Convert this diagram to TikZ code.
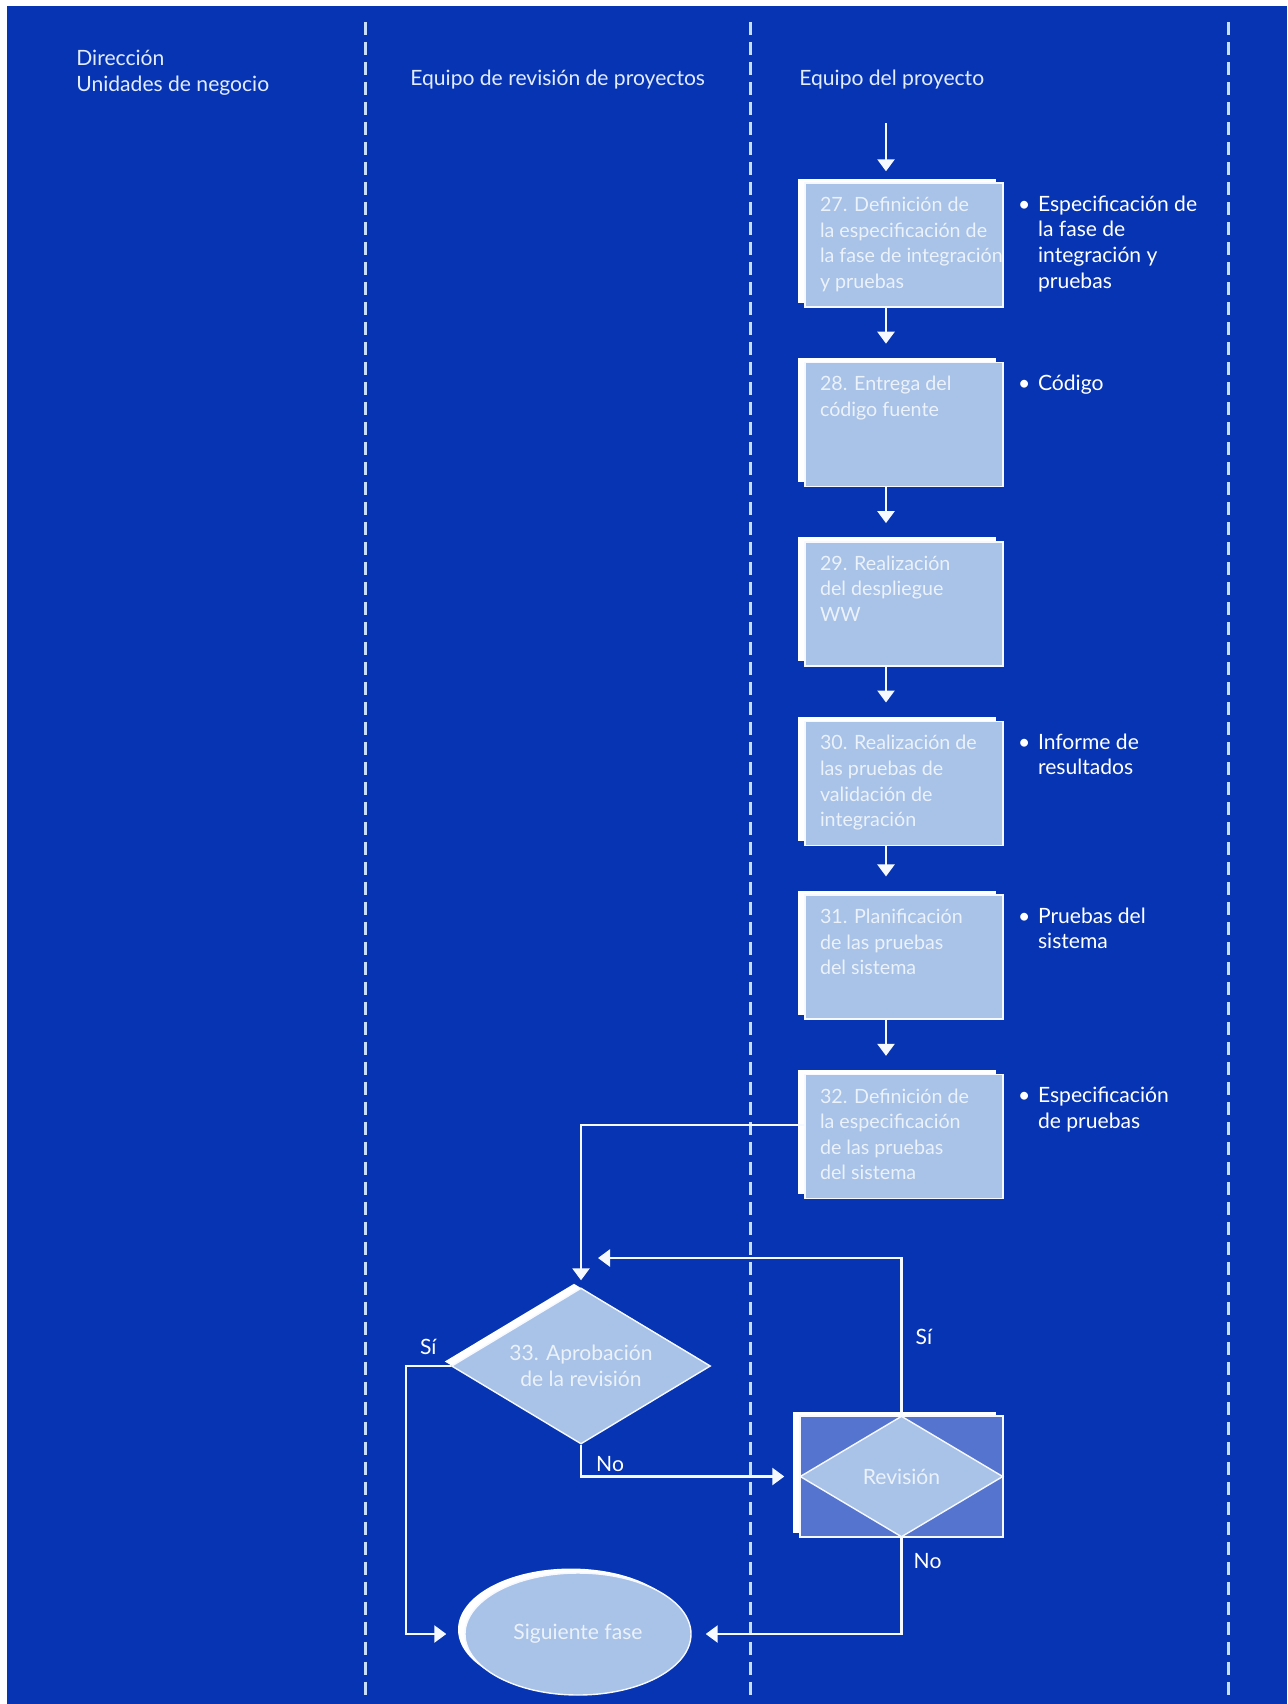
\documentclass[tikz,border=0pt]{standalone}
\usepackage{fontspec}
\setmainfont{Lato}
\usepackage{tikz}
\usetikzlibrary{positioning}
\usetikzlibrary{shapes.geometric}
\usetikzlibrary{arrows.meta}
\usetikzlibrary{shadows}

\definecolor{bgblue}{RGB}{6,52,178}
\definecolor{stepfill}{RGB}{168,194,232}
\definecolor{steptext}{RGB}{236,242,250}
\definecolor{revfill}{RGB}{84,116,208}
\definecolor{flowline}{RGB}{246,249,255}
\definecolor{laneline}{RGB}{200,222,255}
\definecolor{headtext}{RGB}{226,236,255}

\newcommand{\steptext}[1]{\parbox[c][2.06cm][t]{3.36cm}{\begin{tabular}[t]{@{}l@{}}#1\end{tabular}}}
\newcommand{\outtext}[1]{\makebox[0.4cm][l]{\textbullet}\begin{tabular}[t]{@{}l@{}}#1\end{tabular}}

\tikzset{
	whiteshadow/.style = {general shadow = {fill = white, shadow xshift = -0.14cm, shadow yshift = 0.09cm}},
	stepbox/.style = {rectangle, draw = flowline, line width = 0.8pt, fill = stepfill, text = steptext, inner xsep = 0.3cm, inner ysep = 0.21cm, minimum width = 3.96cm, minimum height = 2.48cm, font = \fontsize{11.2}{14.6}\selectfont, whiteshadow},
	decision/.style = {diamond, aspect = 1.66, draw = flowline, line width = 0.8pt, fill = stepfill, text = steptext, inner sep = 0, minimum width = 5.18cm, minimum height = 3.12cm, align = center, font = \fontsize{12}{14.6}\selectfont, whiteshadow},
	revbox/.style = {rectangle, draw = flowline, line width = 0.8pt, fill = revfill, minimum width = 4.06cm, minimum height = 2.42cm, whiteshadow},
	revdiamond/.style = {diamond, aspect = 1.68, draw = flowline, line width = 0.8pt, fill = stepfill, text = steptext, inner sep = 0, minimum width = 4.06cm, minimum height = 2.42cm, font = \fontsize{12}{14.6}\selectfont},
	endstate/.style = {ellipse, draw = flowline, line width = 0.8pt, fill = stepfill, text = steptext, minimum width = 4.52cm, minimum height = 2.44cm, font = \fontsize{12}{14.6}\selectfont, whiteshadow},
	outnote/.style = {text = white, inner sep = 0, font = \fontsize{12}{14.6}\selectfont},
	head/.style = {text = headtext, inner sep = 0, font = \fontsize{12}{14.6}\selectfont},
	lbl/.style = {text = white, inner sep = 0, font = \fontsize{12}{14.6}\selectfont},
	lane/.style = {draw = laneline, line width = 0.06cm, dash pattern = on 0.26cm off 0.14cm},
	flow/.style = {draw = flowline, line width = 1.4pt, -{Triangle[length = 0.24cm, width = 0.34cm]}}
}

\begin{document}
\begin{tikzpicture}
	\fill[white] (0,0) rectangle (25.74,-34.08);
	\fill[bgblue] (0.14,-0.12) rectangle (25.74,-34.08);
	\foreach \x in {7.30, 15.00, 24.56}
		\draw[lane] (\x,-0.44) -- (\x,-34.0);

	\node[head, anchor = west, align = left] (hdir) at (1.52,-1.46) {Dirección\\Unidades de negocio};
	\node[head, anchor = west] (hrev) at (8.20,-1.60) {Equipo de revisión de proyectos};
	\node[head, anchor = west] (hpro) at (15.98,-1.60) {Equipo del proyecto};

	\node[stepbox] (b27) at (18.08,-4.90) {\steptext{27. Definición de\\la especificación de\\la fase de integración\\y pruebas}};
	\node[stepbox, below = 1.08cm of b27] (b28) {\steptext{28. Entrega del\\código fuente}};
	\node[stepbox, below = 1.08cm of b28] (b29) {\steptext{29. Realización\\del despliegue\\WW}};
	\node[stepbox, below = 1.08cm of b29] (b30) {\steptext{30. Realización de\\las pruebas de\\validación de\\integración}};
	\node[stepbox, below = 0.97cm of b30] (b31) {\steptext{31. Planificación\\de las pruebas\\del sistema}};
	\node[stepbox, below = 1.08cm of b31] (b32) {\steptext{32. Definición de\\la especificación\\de las pruebas\\del sistema}};

	\node[outnote, right = 0.28cm of b27.north east, anchor = north west, yshift = -0.21cm] (n27) {\outtext{Especificación de\\la fase de\\integración y\\pruebas}};
	\node[outnote, right = 0.28cm of b28.north east, anchor = north west, yshift = -0.21cm] (n28) {\outtext{Código}};
	\node[outnote, right = 0.28cm of b30.north east, anchor = north west, yshift = -0.21cm] (n30) {\outtext{Informe de\\resultados}};
	\node[outnote, right = 0.28cm of b31.north east, anchor = north west, yshift = -0.21cm] (n31) {\outtext{Pruebas del\\sistema}};
	\node[outnote, right = 0.28cm of b32.north east, anchor = north west, yshift = -0.21cm] (n32) {\outtext{Especificación\\de pruebas}};

	\node[decision] (d33) at (11.62,-27.32) {33. Aprobación\\de la revisión};
	\node[revbox] (rev) at (18.03,-29.53) {};
	\node[revdiamond] (revd) at (rev.center) {Revisión};
	\node[endstate] (sig) at (11.56,-32.68) {Siguiente fase};

	\coordinate (col) at (17.72,-2.46);
	\coordinate (loopin) at (11.96,-25.16);
	\draw[flow, shorten > = 0.22cm] (col) -- (col |- b27.north);
	\foreach \a/\b in {b27/b28, b28/b29, b29/b30, b30/b31, b31/b32}
		\draw[flow, shorten > = 0.36cm] (\a.south -| col) -- (\b.north -| col);
	\draw[flow, shorten > = 0.14cm] ([yshift = -1.02cm]b32.north west) -| (d33.north);
	\draw[flow] (rev.north) |- node[lbl, pos = 0.25, right = 0.26cm] {Sí} (loopin);
	\draw[flow, shorten > = 0.3cm] (d33.south) |- node[lbl, pos = 0.3, right = 0.28cm] {No} (rev.west);
	\draw[flow, shorten > = 0.36cm] (d33.west) -- node[lbl, above = 0.2cm] {Sí} ++(-0.9,0) |- (sig.west);
	\draw[flow, shorten > = 0.28cm] (rev.south) |- node[lbl, pos = 0.12, right = 0.22cm] {No} (sig.east);
\end{tikzpicture}
\end{document}
